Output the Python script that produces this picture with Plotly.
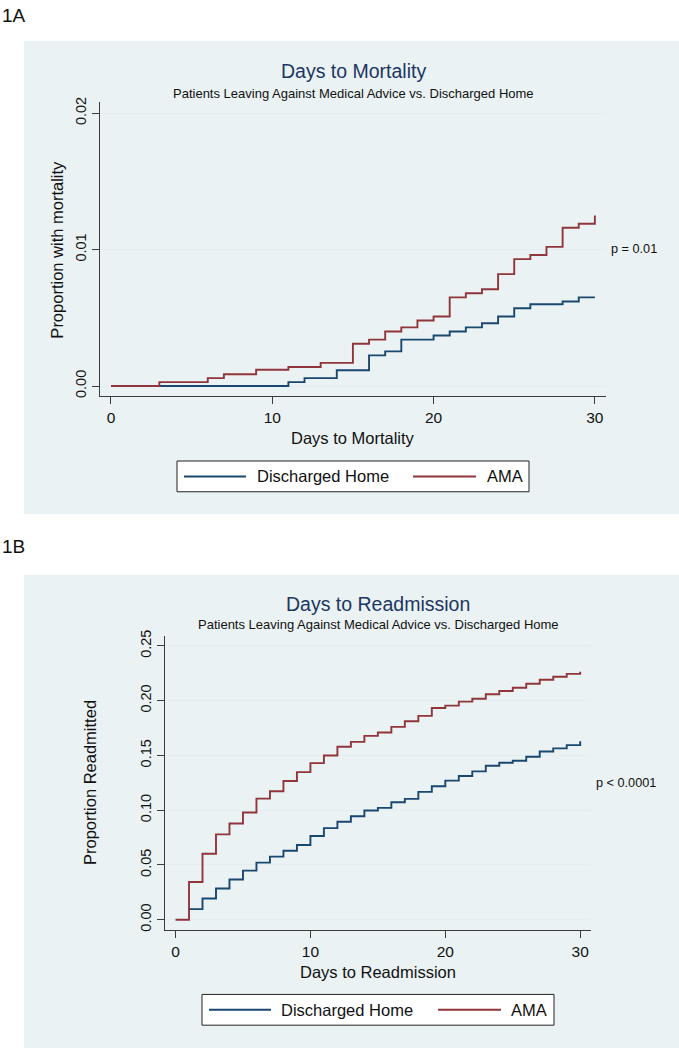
import plotly.graph_objects as go

# ---------------- data ----------------
mort_days_home = [3, 11, 12, 14, 16, 17, 18, 20, 21, 22, 23, 24, 25, 26, 28, 29, 30]
mort_home = [0, 0.00029, 0.00058, 0.00116, 0.00225, 0.00254, 0.0034, 0.0037, 0.0040,
             0.0043, 0.0046, 0.0051, 0.0057, 0.0060, 0.0062, 0.0065, 0.0065]
mort_days_ama = [0, 3, 6, 7, 9, 11, 13, 15, 16, 17, 18, 19, 20, 21, 22, 23, 24, 25, 26, 27, 28, 29, 30]
mort_ama = [0, 0.00029, 0.00058, 0.00087, 0.00119, 0.0014, 0.0017, 0.0031, 0.0034, 0.0040,
            0.0043, 0.0048, 0.0051, 0.0065, 0.0068, 0.0071, 0.0082, 0.0093, 0.0096, 0.0102,
            0.0116, 0.0119, 0.0125]

readm_days_home = list(range(1, 31))
readm_home = [0.0097, 0.0194, 0.0285, 0.0367, 0.0448, 0.0521, 0.0576, 0.063, 0.0682, 0.0764,
              0.0836, 0.0894, 0.0945, 0.0997, 0.1021, 0.1073, 0.1103, 0.1167, 0.1218, 0.127,
              0.1312, 0.1354, 0.1406, 0.1433, 0.1451, 0.1488, 0.1536, 0.1564, 0.1594, 0.163]
readm_days_ama = list(range(0, 31))
readm_ama = [0, 0.0345, 0.0603, 0.0779, 0.0879, 0.0979, 0.1106, 0.1173, 0.1267, 0.1348,
             0.1430, 0.1500, 0.1579, 0.1624, 0.1679, 0.1709, 0.1761, 0.1812, 0.1861, 0.1933,
             0.1955, 0.1991, 0.2018, 0.2058, 0.2088, 0.2118, 0.2155, 0.2191, 0.2218, 0.2245,
             0.2264]

x_ticks = [0, 10, 20, 30]
mort_y_ticks = [0, 0.01, 0.02]
readm_y_ticks = [0, 0.05, 0.10, 0.15, 0.20, 0.25]

series_names = ["Discharged Home", "AMA"]

# ---------------- style ----------------
W, H = 679, 1050
FONT = "Liberation Sans, Arial, sans-serif"
BLUE = "#1A476F"
RED = "#90353B"
PANEL = "#EAF2F3"
GRID = "#E4EDEF"
AXIS = "#3C3C3C"
TITLE = "#1C3664"


def px(x):
    return x / W


def py(y):
    return 1 - y / H


fig = go.Figure()

fig.add_trace(go.Scatter(x=mort_days_home, y=mort_home, mode="lines", line_shape="hv",
                         line=dict(color=BLUE, width=1.9), name=series_names[0],
                         showlegend=False, xaxis="x", yaxis="y"))
fig.add_trace(go.Scatter(x=mort_days_ama, y=mort_ama, mode="lines", line_shape="hv",
                         line=dict(color=RED, width=1.9), name=series_names[1],
                         showlegend=False, xaxis="x", yaxis="y"))
fig.add_trace(go.Scatter(x=readm_days_home, y=readm_home, mode="lines", line_shape="hv",
                         line=dict(color=BLUE, width=1.9), name=series_names[0],
                         showlegend=False, xaxis="x2", yaxis="y2"))
fig.add_trace(go.Scatter(x=readm_days_ama, y=readm_ama, mode="lines", line_shape="hv",
                         line=dict(color=RED, width=1.9), name=series_names[1],
                         showlegend=False, xaxis="x2", yaxis="y2"))

xtickfont = dict(family=FONT, size=15.5, color="#111111")
ytickfont = dict(family=FONT, size=14.5, color="#111111")
xcommon = dict(tickmode="array", tickvals=x_ticks, ticks="outside", ticklen=7, tickwidth=1,
               tickcolor=AXIS, showline=True, linecolor=AXIS, linewidth=1, showgrid=False,
               zeroline=False, tickfont=xtickfont, fixedrange=True)
ycommon = dict(ticks="outside", ticklen=7, tickwidth=1, tickcolor=AXIS, showline=True,
               linecolor=AXIS, linewidth=1, showgrid=True, gridcolor=GRID, gridwidth=1,
               zeroline=False, tickfont=ytickfont, tickangle=-90, tickformat=".2f",
               fixedrange=True)

fig.update_layout(
    width=W, height=H, margin=dict(l=0, r=0, t=0, b=0),
    paper_bgcolor="white", plot_bgcolor="white",
    font=dict(family=FONT, color="#111111"),
    showlegend=False,
    xaxis=dict(domain=[px(100), px(606)], range=[-0.68, 30.69], anchor="y", **xcommon),
    yaxis=dict(domain=[py(393), py(97)], range=[-0.00073, 0.0208], anchor="x",
               tickmode="array", tickvals=mort_y_ticks, **ycommon),
    xaxis2=dict(domain=[px(165), px(591)], range=[-0.78, 30.80], anchor="y2", **xcommon),
    yaxis2=dict(domain=[py(931), py(635)], range=[-0.0093, 0.2589], anchor="x2",
                tickmode="array", tickvals=readm_y_ticks, **ycommon),
)

shapes = []
# panel backgrounds
shapes.append(dict(type="rect", xref="paper", yref="paper", x0=px(24), x1=px(679),
                   y0=py(512), y1=py(35), fillcolor=PANEL, line=dict(width=0), layer="below"))
shapes.append(dict(type="rect", xref="paper", yref="paper", x0=px(24), x1=px(679),
                   y0=py(1050), y1=py(573), fillcolor=PANEL, line=dict(width=0), layer="below"))

annotations = []


def text(x, y, s, size, color="#111111", xanchor="center", angle=0):
    annotations.append(dict(xref="paper", yref="paper", x=px(x), y=py(y), text=s,
                            showarrow=False, xanchor=xanchor, yanchor="middle",
                            textangle=angle,
                            font=dict(family=FONT, size=size, color=color)))


def legend(x0, x1, y0, y1, blue_line, red_line, blue_text_x, red_text_x):
    yc = (y0 + y1) / 2
    shapes.append(dict(type="rect", xref="paper", yref="paper", x0=px(x0), x1=px(x1),
                       y0=py(y1), y1=py(y0), fillcolor="white",
                       line=dict(color="#222222", width=1)))
    shapes.append(dict(type="line", xref="paper", yref="paper", x0=px(blue_line[0]),
                       x1=px(blue_line[1]), y0=py(yc), y1=py(yc),
                       line=dict(color=BLUE, width=2)))
    shapes.append(dict(type="line", xref="paper", yref="paper", x0=px(red_line[0]),
                       x1=px(red_line[1]), y0=py(yc), y1=py(yc),
                       line=dict(color=RED, width=2)))
    text(blue_text_x, yc, series_names[0], 16.5, xanchor="left")
    text(red_text_x, yc, series_names[1], 16.5, xanchor="left")


# panel labels
text(0, 10, "1A", 19, xanchor="left")
text(0, 545, "1B", 19, xanchor="left")

# panel A
text(353, 65, "Days to Mortality", 19.5, color=TITLE)
text(353, 88, "Patients Leaving Against Medical Advice vs. Discharged Home", 13)
text(353, 435, "Days to Mortality", 16.5)
text(57.5, 246, "Proportion with mortality", 16.5, angle=-90)
text(609, 245, "p = 0.01", 12.7, xanchor="left")
legend(177, 529, 458.5, 489.5, (184, 246), (413, 476), 255, 485)

# panel B
text(378, 603, "Days to Readmission", 19.5, color=TITLE)
text(378, 623, "Patients Leaving Against Medical Advice vs. Discharged Home", 13)
text(378, 973, "Days to Readmission", 16.5)
text(90, 783, "Proportion Readmitted", 16.5, angle=-90)
text(594, 783, "p < 0.0001", 12.7, xanchor="left")
legend(202, 554, 996, 1027, (209, 271), (438, 501), 279, 509)

fig.update_layout(shapes=shapes, annotations=annotations)

post = (
    "document.documentElement.style.margin='0';"
    "document.documentElement.style.overflow='hidden';"
    "document.body.style.margin='0';"
    "document.body.style.overflow='hidden';"
    "var gd=document.getElementById('{plot_id}');"
    "gd.style.position='fixed';gd.style.top='0px';gd.style.left='0px';"
)
fig.write_html("out.html", config={"displayModeBar": False}, post_script=post)
